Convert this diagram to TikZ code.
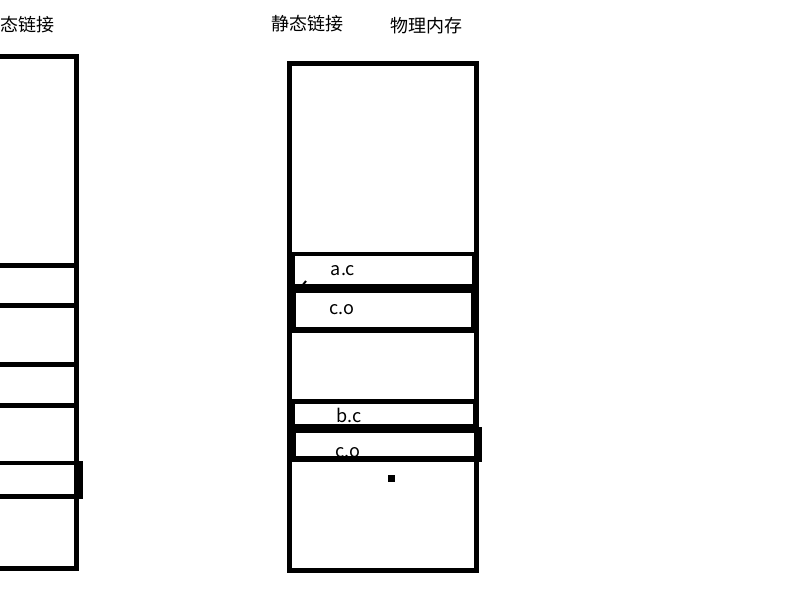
\documentclass[tikz,border=0pt]{standalone}
\usepackage{fontspec}
\newfontfamily\cjk{Noto Sans CJK SC}
\usetikzlibrary{calc,positioning}

\begin{document}
\begin{tikzpicture}[x=1pt,y=-1pt,font=\cjk\fontsize{18}{20}\selectfont,
          memCol/.style={
            draw,
            rectangle,
            line width=5pt,
            inner sep=0pt,
            outer sep=0pt},
          segBox/.style={
            draw,
            rectangle,
            line width=4.5pt,
            inner sep=0pt,
            outer sep=0pt},
          segThick/.style={
            segBox,
            line width=6pt},
          segLabel/.style={
            inner sep=0pt}
          ]

          \clip (0,0) rectangle (800,600);

          % dynamic linking (left)
          \node[memCol, minimum width=196pt, minimum height=511.5pt] (dynMem) at (-22,312.25) {};
          \node[segBox, minimum width=196pt, minimum height=40pt, anchor=east] (dynSeg1) at (76,285.5) {};
          \node[segBox, minimum width=196pt, minimum height=41pt, anchor=east] (dynSeg2) at (76,385) {};
          \node[segBox, minimum width=200pt, minimum height=33.5pt, anchor=east] (dynSeg3) at (80.5,479.75) {};
          \node[segLabel, anchor=west] (dynTitle) at (0.5,25) {态链接};

          % static linking (right)
          \node[memCol, minimum width=187pt, minimum height=506.5pt] (physMem) at (382.5,316.75) {};
          \node[segLabel] (statTitle) at (307,24) {静态链接};
          \node[segLabel] (physTitle) at (426,26) {物理内存};

          \node[segBox, minimum width=181pt, minimum height=32pt, anchor=north west] (segA) at (293,254) {};
          \node[segThick, minimum width=181pt, minimum height=40pt, anchor=north west] (segCoA) at (293,290) {};
          \node[segBox, minimum width=182pt, minimum height=24.5pt, anchor=north west] (segB) at (293,401.5) {};
          \node[segThick, minimum width=186pt, minimum height=29pt, anchor=north west] (segCoB) at (293,430) {};

          \node[segLabel] (labA) at (343,270.5) {a.c};
          \node[segLabel] (labCoA) at (342,309.5) {c.o};
          \node[segLabel] (labB) at (349,415.5) {b.c};
          \node[segLabel] (labCoB) at (348,452.5) {c.o};

          \node[fill, rectangle, minimum size=7pt, inner sep=0pt] (dot) at (391.5,478.5) {};
          \draw[line width=2pt] (302,286) -- (306,281);
        \end{tikzpicture}
\end{document}
